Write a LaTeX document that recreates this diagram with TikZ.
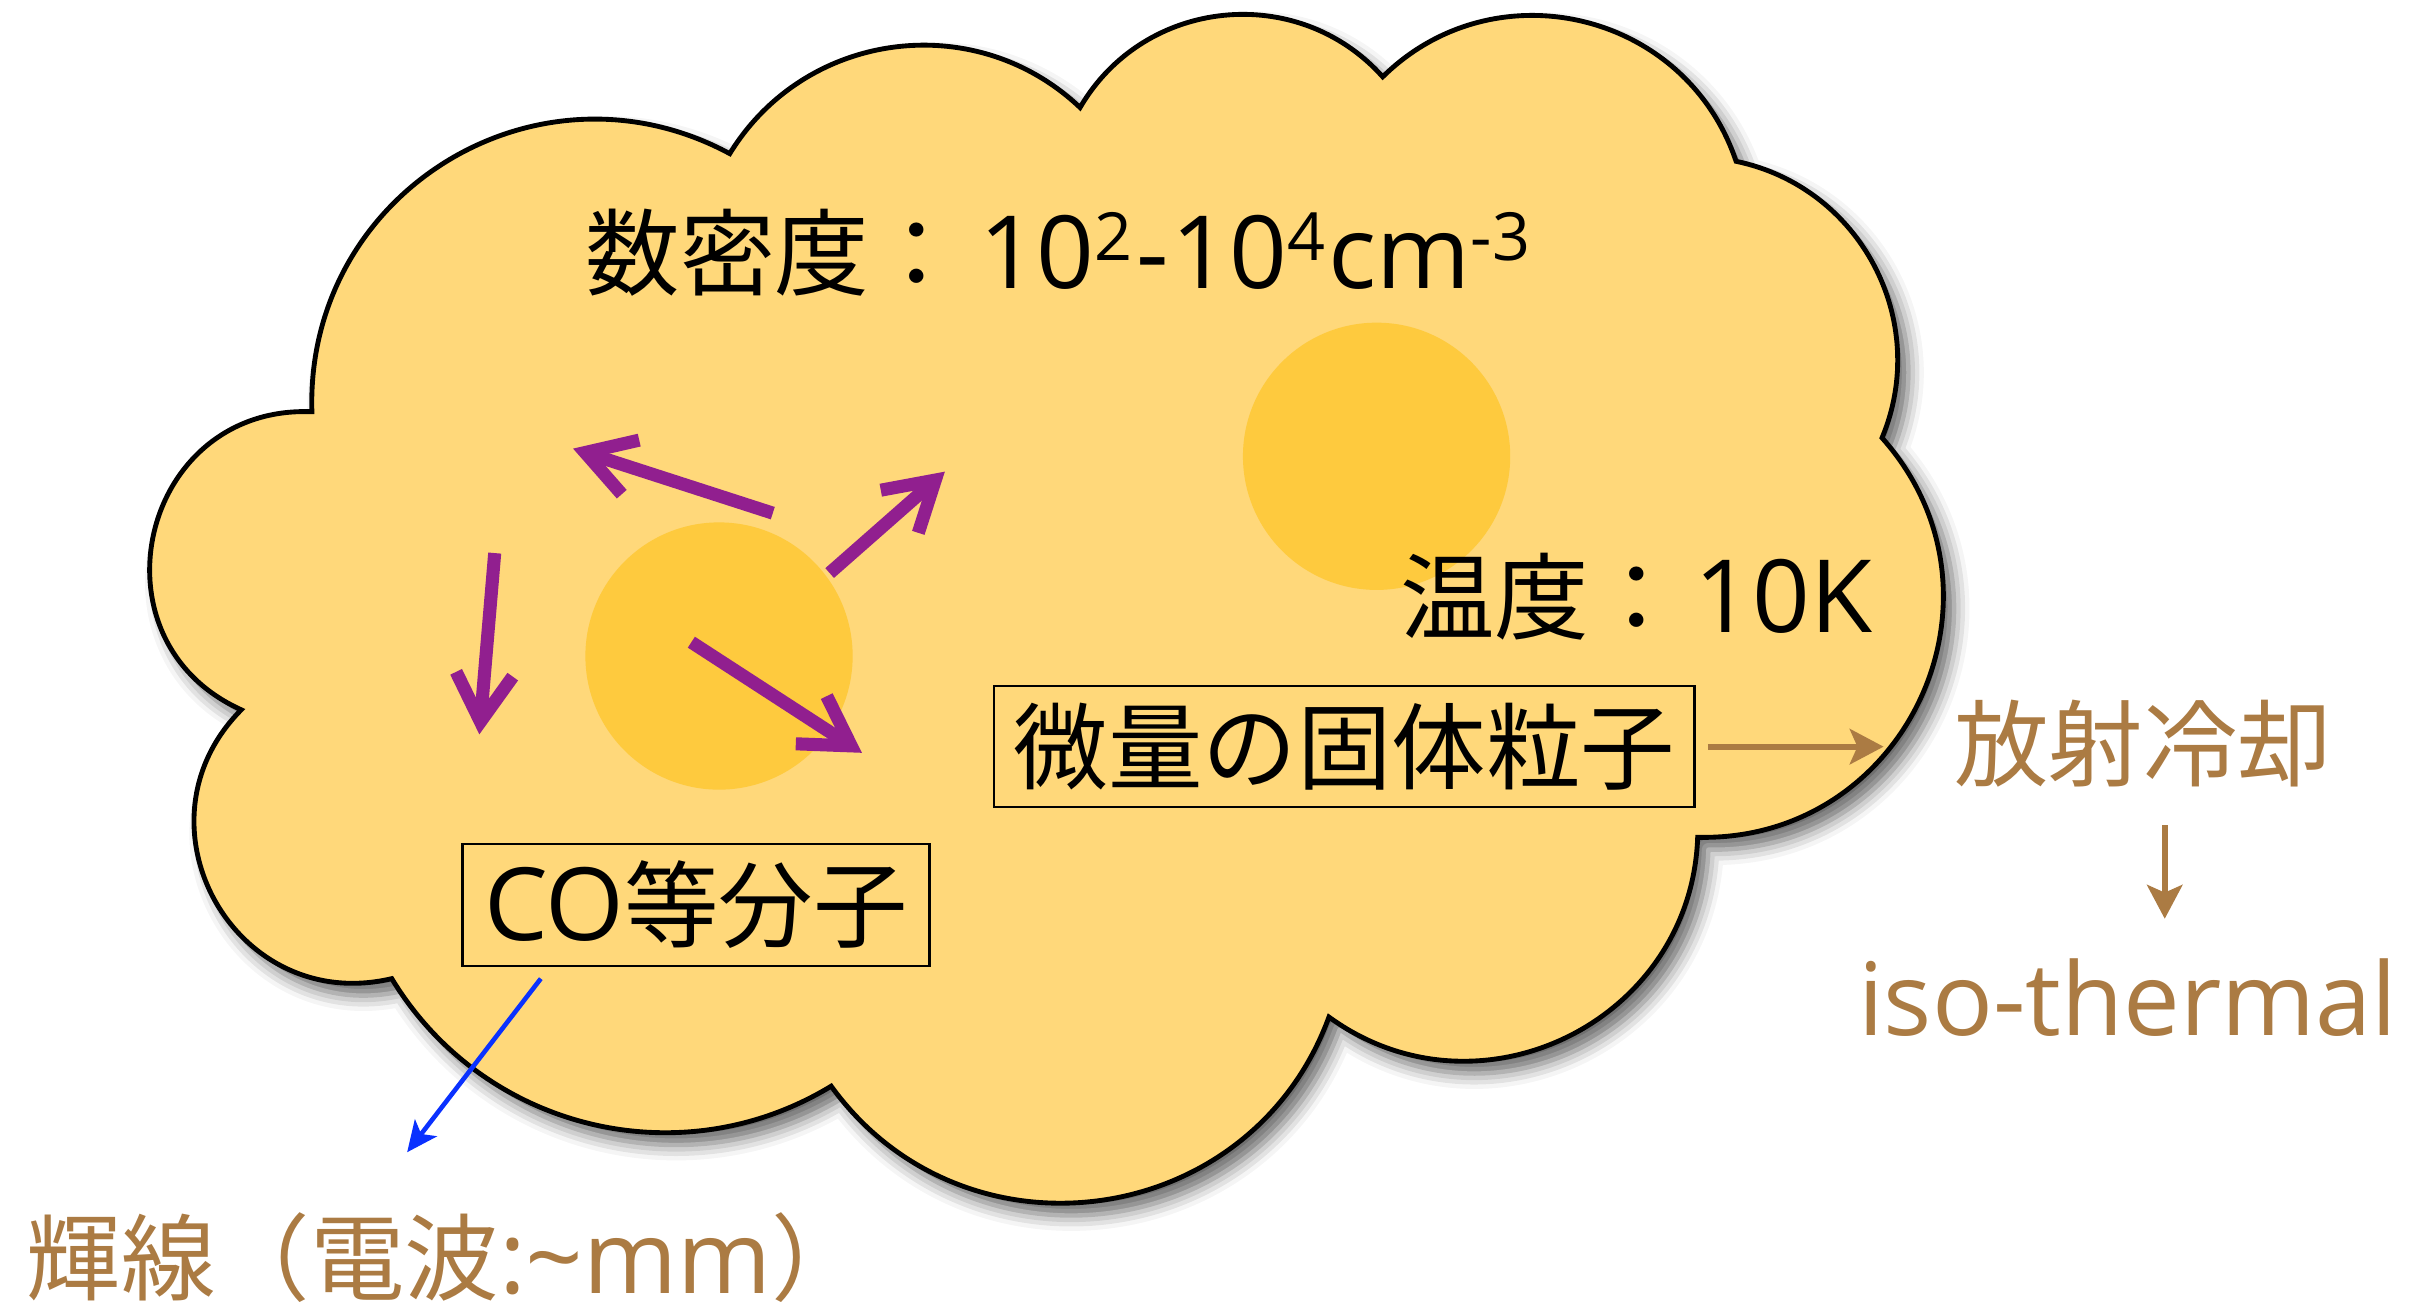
\documentclass[tikz,border=0pt]{standalone}
\usepackage{fontspec}
\setmainfont{Open Sans}[Scale=1.07]
\newfontfamily\jp{Noto Sans CJK JP}
\usetikzlibrary{arrows.meta,shadows.blur}
\definecolor{cloudfill}{HTML}{FFD87A}
\definecolor{blob}{HTML}{FECA3E}
\definecolor{purp}{HTML}{911F8F}
\definecolor{brn}{HTML}{AB7B43}
\definecolor{blu}{HTML}{0A31FF}
\newcommand\sups[1]{\raisebox{10.5pt}{\fontsize{23}{0}\selectfont #1}}
\tikzset{
  txt/.style={inner sep=0pt, font=\fontsize{35}{42}\selectfont},
  labelbox/.style={draw=black, line width=0.8pt, inner sep=0pt,
     font=\fontsize{35}{42}\selectfont, minimum height=1.58cm},
  motion/.style={draw=purp, line width=0.17cm,
     -{Straight Barb[length=0.62cm,width=0.74cm]}},
  brnarrow/.style={draw=brn, line width=0.075cm,
     -{Stealth[length=0.44cm,width=0.46cm,inset=0.1cm]}},
  bluarrow/.style={draw=blu, line width=0.06cm,
     -{Stealth[length=0.4cm,width=0.36cm,inset=0.1cm]}},
  cloudline/.style={fill=cloudfill, draw=black, line width=1.8pt,
     blur shadow={shadow xshift=0.14cm, shadow yshift=-0.16cm,
       shadow blur radius=0.2cm, shadow opacity=60}}
}
\begin{document}
\begin{tikzpicture}[x=0.02cm,y=-0.02cm]
\useasboundingbox (0,0) rectangle (1568,847);
% cloud cusps
\coordinate (P1) at (203,268);
\coordinate (P2) at (475,100);
\coordinate (P3) at (703,70);
\coordinate (P4) at (900,50);
\coordinate (P5) at (1130,105);
\coordinate (P6) at (1225,285);
\coordinate (P7) at (1105,545);
\coordinate (P8) at (865,662);
\coordinate (P9) at (541,707);
\coordinate (P10) at (255,637);
\coordinate (P11) at (157,462);
\path[cloudline] (P1)
  to[bend left=60,looseness=1.14] (P2)
  to[bend left=51,looseness=1.045] (P3)
  to[bend left=54,looseness=1.07] (P4)
  to[bend left=58,looseness=1.11] (P5)
  to[bend left=50.5,looseness=1.04] (P6)
  to[bend left=66.5,looseness=1.22] (P7)
  to[bend left=62,looseness=1.155] (P8)
  to[bend left=62,looseness=1.155] (P9)
  to[bend left=45,looseness=1.0] (P10)
  to[bend left=74,looseness=1.34] (P11)
  to[bend left=79,looseness=1.43] (P1) -- cycle;
% dense cores
\fill[blob] (468,427) circle[radius=1.74cm];
\fill[blob] (896,297) circle[radius=1.74cm];
% molecule motions
\coordinate (a1) at (503,334); \coordinate (a2) at (373,292);
\coordinate (b1) at (540,373); \coordinate (b2) at (615,307);
\coordinate (c1) at (322,360); \coordinate (c2) at (312,478);
\coordinate (d1) at (450,418); \coordinate (d2) at (561,490);
\draw[motion] (a1) -- (a2);
\draw[motion] (b1) -- (b2);
\draw[motion] (c1) -- (c2);
\draw[motion] (d1) -- (d2);
% texts
\node[txt, anchor=base west] (dens) at (381,188)
  {{\jp 数密度：}\hspace{0.2cm}10\sups{2}\hspace{0.05cm}-\hspace{0.03cm}10\sups{4}\hspace{0.05cm}cm\sups{-3}};
\node[txt, anchor=base west] (temp) at (911,412) {{\jp 温度：}\hspace{0.14cm}10K};
\node[labelbox, minimum width=9.12cm] (dust) at (875,486) {\jp 微量の固体粒子};
\node[labelbox, minimum width=6.08cm] (mol) at (453,589) {CO{\jp 等分子}};
\node[txt, text=brn] (cool) at (1395,484) {\jp 放射冷却};
\node[txt, text=brn, anchor=base] (iso) at (1385,674) {iso-thermal};
\node[txt, text=brn, anchor=base west] (emis) at (17,842)
  {{\jp 輝線（電波}:\textasciitilde mm{\jp ）}};
% connectors
\coordinate (radend) at (1226,486);
\draw[brnarrow, shorten <=0.16cm] (dust.east) -- (radend);
\coordinate (e1) at (1409,537); \coordinate (e2) at (1409,598);
\draw[brnarrow] (e1) -- (e2);
\coordinate (f1) at (352,637); \coordinate (f2) at (265,750);
\draw[bluarrow] (f1) -- (f2);
\end{tikzpicture}
\end{document}
